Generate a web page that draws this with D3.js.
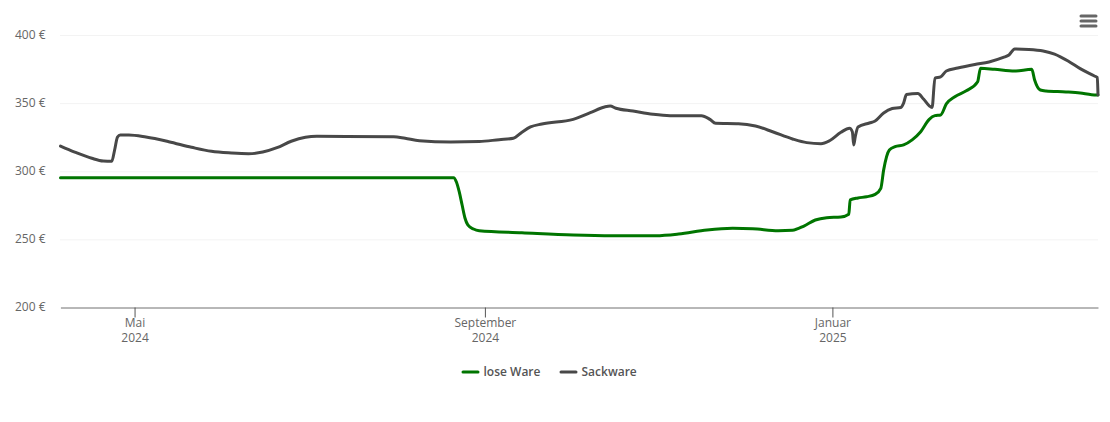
<!DOCTYPE html>
<html>
<head>
<meta charset="utf-8">
<script src="https://cdnjs.cloudflare.com/ajax/libs/d3/7.8.5/d3.min.js"></script>
<style>
	html, body { margin: 0; padding: 0; background: #fff; }
	svg { display: block; }
	svg text { font-family: "Open Sans", sans-serif; }
	.y-axis .domain { display: none; }
	.y-axis line { stroke: #e6e6e6; stroke-dasharray: 1 1; }
	.y-axis text, .x-axis text { fill: #666; font-size: 12px; }
	.x-axis .domain { stroke: #777; stroke-width: 1; }
	.x-axis line { stroke: #555; }
	.legend text { fill: #555; font-size: 12px; font-weight: 600; }
</style>
</head>
<body>
<svg id="chart" width="1110" height="422"></svg>
<script>
var yTicks = [200, 250, 300, 350, 400];
var xTickDates = ['2024-05-01', '2024-09-01', '2025-01-01'];
var xTickMonths = ['Mai', 'September', 'Januar'];
var xTickYears = ['2024', '2024', '2025'];
var xStart = '2024-04-05', xEnd = '2025-04-04T06:00';

var seriesNames = ['lose Ware', 'Sackware'];
var seriesColors = ['#007500', '#484848'];

var looseDates = ['2024-04-05', '2024-08-21', '2024-08-22', '2024-08-23', '2024-08-24', '2024-08-25', '2024-08-26', '2024-08-28', '2024-08-30',
	'2024-09-14', '2024-10-02', '2024-10-16', '2024-10-31', '2024-11-08', '2024-11-18', '2024-11-27', '2024-12-04',
	'2024-12-13', '2024-12-18', '2024-12-22', '2024-12-26', '2024-12-30', '2025-01-04', '2025-01-06T18:00', '2025-01-07T06:00',
	'2025-01-10', '2025-01-13', '2025-01-16', '2025-01-18', '2025-01-19', '2025-01-21', '2025-01-23', '2025-01-26',
	'2025-01-29', '2025-02-01', '2025-02-04', '2025-02-06', '2025-02-08', '2025-02-10', '2025-02-13', '2025-02-17',
	'2025-02-21', '2025-02-22', '2025-02-27', '2025-03-06', '2025-03-12', '2025-03-13', '2025-03-15', '2025-03-17',
	'2025-03-24', '2025-03-29', '2025-04-02', '2025-04-04T06:00'];
var looseValues = [295.3, 295.3, 292.1, 284.8, 275.2, 265.7, 260.6, 257.6, 256.4,
	254.9, 253.2, 252.7, 252.7, 253.9, 256.9, 258.1, 257.8,
	256.4, 256.7, 259.8, 264.2, 265.9, 266.4, 268.4, 279,
	280.4, 281.3, 283, 287.5, 301, 315.6, 318, 319.3,
	323, 329, 338.1, 340.8, 341.3, 349.4, 354.7, 359,
	365.7, 375.6, 374.8, 373.6, 374.8, 367, 359.6, 358.9,
	358.2, 357.4, 356.2, 356];

var sackDates = ['2024-04-05', '2024-04-10', '2024-04-16', '2024-04-20', '2024-04-23', '2024-04-24', '2024-04-25', '2024-04-26', '2024-04-29',
	'2024-05-05', '2024-05-13', '2024-05-21', '2024-05-28', '2024-06-04', '2024-06-10', '2024-06-15', '2024-06-20', '2024-06-25',
	'2024-06-30', '2024-07-04', '2024-07-31', '2024-08-04', '2024-08-09', '2024-08-20', '2024-08-30', '2024-09-06', '2024-09-11', '2024-09-14',
	'2024-09-17', '2024-09-21', '2024-10-02', '2024-10-08', '2024-10-13', '2024-10-15', '2024-10-17', '2024-10-23',
	'2024-10-30', '2024-11-05', '2024-11-16', '2024-11-19', '2024-11-21', '2024-11-29', '2024-12-05', '2024-12-11',
	'2024-12-18', '2024-12-23', '2024-12-28', '2024-12-31', '2025-01-04', '2025-01-07', '2025-01-08', '2025-01-08T12:00', '2025-01-09',
	'2025-01-10', '2025-01-14', '2025-01-16', '2025-01-19', '2025-01-22', '2025-01-25', '2025-01-26',
	'2025-01-27', '2025-01-31', '2025-02-02', '2025-02-04', '2025-02-05', '2025-02-06', '2025-02-08', '2025-02-10',
	'2025-02-14', '2025-02-20', '2025-02-25', '2025-03-02', '2025-03-04', '2025-03-06', '2025-03-11', '2025-03-16',
	'2025-03-20', '2025-03-25', '2025-03-29', '2025-04-03', '2025-04-04', '2025-04-04T06:00'];
var sackValues = [318.5, 314.1, 309.5, 307.5, 307.3, 315.6, 325.1, 326.6, 326.6,
	325.1, 321.7, 317.6, 314.6, 313.4, 312.9, 314.1, 317.3, 322,
	324.9, 325.6, 325.4, 324.2, 322.4, 321.5, 321.8, 323.2, 324.2, 328.6,
	332.5, 334.7, 338.1, 343, 347.2, 347.9, 346.2, 344.2,
	341.8, 340.8, 340.8, 338.1, 335.2, 334.9, 333.2, 329,
	323.7, 321, 320.2, 322.4, 328.6, 331.5, 329, 319.3, 325,
	332.5, 335.4, 336.9, 342.8, 346, 346.8, 350,
	356.3, 357, 353, 348, 346.8, 368.4, 369.2, 373.6,
	375.8, 378.4, 380.2, 383.5, 385.3, 389.7, 389.4, 388.3,
	386, 380.6, 375.3, 369.9, 368.8, 356];

var svg = d3.select('#chart');

var x = d3.scaleTime().domain([new Date(xStart), new Date(xEnd)]).range([60.5, 1098]);
var y = d3.scaleLinear().domain([200, 400]).range([307.5, 35]);

var parseDate = function(s) {
	return new Date(s);
};

// grid lines come from the y axis ticks
var yAxis = d3.axisLeft(y).tickValues(yTicks).tickSize(-1037.5).tickPadding(15)
	.tickFormat(function(d) { return d + ' €'; });
svg.append('g').attr('class', 'y-axis').attr('transform', 'translate(60.5,0)').call(yAxis)
	.selectAll('.tick text').attr('y', -0.8);

var xAxis = d3.axisBottom(x).tickValues(xTickDates.map(parseDate)).tickSize(10).tickSizeOuter(0).tickFormat('');
var xAxisG = svg.append('g').attr('class', 'x-axis').attr('transform', 'translate(0,307.5)').call(xAxis);

var label = xAxisG.selectAll('.tick text').attr('y', 0).attr('dy', 0);
label.append('tspan').attr('x', 0).attr('y', 19.5).text(function(d, i) { return xTickMonths[i]; });
label.append('tspan').attr('x', 0).attr('y', 34.5).text(function(d, i) { return xTickYears[i]; });

var line = d3.line()
	.x(function(d) { return x(d.date); })
	.y(function(d) { return y(d.value); })
	.curve(d3.curveMonotoneX);

var toPoints = function(dates, values) {
	return dates.map(function(s, i) {
		return { date: parseDate(s), value: values[i] };
	});
};

var series = [toPoints(looseDates, looseValues), toPoints(sackDates, sackValues)];

svg.selectAll('.series').data(series).enter().append('path')
	.attr('class', 'series')
	.attr('fill', 'none')
	.attr('stroke-width', 3)
	.attr('stroke-linejoin', 'round')
	.attr('stroke-linecap', 'round')
	.attr('stroke', function(d, i) { return seriesColors[i]; })
	.attr('d', line);

// legend
var legendX = [463, 561];
var legend = svg.selectAll('.legend').data(seriesNames).enter().append('g')
	.attr('class', 'legend')
	.attr('transform', function(d, i) { return 'translate(' + legendX[i] + ',372)'; });
legend.append('line').attr('x1', 0).attr('x2', 15)
	.attr('stroke-width', 3)
	.attr('stroke-linecap', 'round')
	.attr('stroke', function(d, i) { return seriesColors[i]; });
legend.append('text').attr('x', 20.5).attr('y', 4).text(function(d) { return d; });

// export menu icon
var menu = svg.append('g').attr('class', 'menu');
[17, 22, 27].forEach(function(top) {
	menu.append('line').attr('x1', 1081).attr('x2', 1096).attr('y1', top - 1).attr('y2', top - 1)
		.attr('stroke', '#666').attr('stroke-width', 3).attr('stroke-linecap', 'round');
});
</script>
</body>
</html>
